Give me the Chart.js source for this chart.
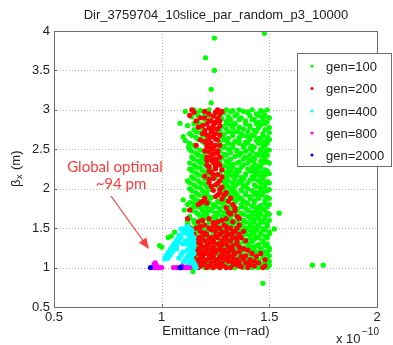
<!DOCTYPE html>
<html><head><meta charset="utf-8">
<script src="https://cdn.jsdelivr.net/npm/chart.js@4"></script>
<style>html,body{margin:0;padding:0;background:#fff}canvas{display:block}</style>
</head><body>
<canvas id="c" width="393" height="345"></canvas>
<script>
const chartTitle = "Dir_3759704_10slice_par_random_p3_10000";
const seriesNames = ["gen=100","gen=200","gen=400","gen=800","gen=2000"];
const seriesColors = ["#00ff00","#ff0000","#00ffff","#ff00ff","#0000ff"];
const xTicks = [0.5,1,1.5,2];
const yTicks = [0.5,1,1.5,2,2.5,3,3.5,4];

const gen100 = [
[1.245,3.91],[1.477,3.97],[1.204,3.66],[1.245,3.50],[1.23,3.26],[1.23,3.09],[1.546,1.69],[1.523,1.49],[1.70,1.03],[1.75,1.03],[1.47,0.80],[1.145,0.95],
[1.085,2.83],[1.10,2.66],[1.125,2.53],[1.14,2.24],[1.10,1.86],[1.105,1.73],[1.12,1.60],[1.00,1.26],[0.99,1.28],[1.03,1.38],[1.045,1.40],[1.06,1.45],[1.11,2.98],[1.12,2.10],
[1.15,3.00],[1.18,2.99],[1.22,3.00],[1.27,2.98],[1.30,3.00],[1.33,2.99],[1.36,3.00],[1.38,2.98],[1.42,3.00],[1.46,2.99],[1.49,3.00],
[1.16,2.96],[1.20,2.94],[1.25,2.95],[1.29,2.96],[1.35,2.94],[1.40,2.96],[1.44,2.95],[1.48,2.93],
[1.14,2.91],[1.28,2.89],[1.31,2.91],[1.37,2.90],[1.43,2.88],[1.47,2.91],[1.50,2.90],
[1.17,2.84],[1.26,2.86],[1.30,2.85],[1.34,2.83],[1.39,2.86],[1.45,2.84],[1.49,2.85],
[1.12,2.80],[1.19,2.81],[1.28,2.79],[1.32,2.81],[1.36,2.78],[1.41,2.80],[1.46,2.81],
[1.15,2.75],[1.27,2.74],[1.30,2.76],[1.35,2.73],[1.38,2.76],[1.43,2.74],[1.48,2.75],
[1.13,2.70],[1.18,2.71],[1.29,2.69],[1.33,2.71],[1.37,2.70],[1.42,2.68],[1.47,2.70],[1.50,2.71],
[1.16,2.65],[1.21,2.64],[1.28,2.66],[1.31,2.64],[1.36,2.65],[1.40,2.66],[1.45,2.64],[1.49,2.65],
[1.11,2.61],[1.19,2.60],[1.27,2.59],[1.30,2.61],[1.34,2.60],[1.39,2.59],[1.44,2.61],[1.48,2.60],
[1.15,2.55],[1.22,2.56],[1.29,2.54],[1.33,2.56],[1.38,2.55],[1.42,2.54],[1.47,2.56],
[1.13,2.50],[1.18,2.49],[1.27,2.51],[1.31,2.50],[1.35,2.49],[1.41,2.51],[1.46,2.50],[1.50,2.49],
[1.16,2.45],[1.20,2.46],[1.29,2.44],[1.32,2.46],[1.37,2.45],[1.44,2.44],[1.48,2.46],
[1.14,2.40],[1.19,2.41],[1.28,2.39],[1.34,2.41],[1.39,2.40],[1.43,2.39],[1.47,2.41],
[1.17,2.35],[1.21,2.34],[1.27,2.36],[1.30,2.35],[1.36,2.34],[1.41,2.36],[1.46,2.35],[1.49,2.34],
[1.15,2.30],[1.20,2.31],[1.29,2.29],[1.33,2.31],[1.38,2.30],[1.45,2.29],
[1.13,2.25],[1.18,2.26],[1.23,2.24],[1.28,2.25],[1.31,2.26],[1.35,2.24],[1.40,2.25],[1.44,2.26],[1.48,2.24],
[1.16,2.20],[1.21,2.21],[1.27,2.19],[1.30,2.21],[1.34,2.20],[1.39,2.19],[1.43,2.21],[1.47,2.20],[1.50,2.19],
[1.14,2.15],[1.19,2.16],[1.25,2.14],[1.29,2.15],[1.33,2.16],[1.37,2.14],[1.42,2.15],[1.46,2.16],
[1.17,2.10],[1.22,2.09],[1.28,2.11],[1.31,2.10],[1.36,2.09],[1.41,2.11],[1.45,2.10],[1.49,2.09],
[1.15,2.05],[1.20,2.06],[1.26,2.04],[1.30,2.05],[1.35,2.06],[1.38,2.04],[1.43,2.05],[1.48,2.06],
[1.13,2.00],[1.18,2.01],[1.23,1.99],[1.29,2.00],[1.32,2.01],[1.37,1.99],[1.40,2.00],[1.46,2.01],[1.50,1.99],
[1.16,1.95],[1.21,1.96],[1.27,1.94],[1.31,1.95],[1.34,1.96],[1.39,1.94],[1.44,1.95],[1.47,1.96],
[1.14,1.90],[1.19,1.91],[1.23,1.89],[1.29,1.90],[1.33,1.91],[1.36,1.89],[1.41,1.90],[1.45,1.91],[1.49,1.89],
[1.17,1.85],[1.22,1.86],[1.26,1.84],[1.30,1.85],[1.35,1.86],[1.38,1.84],[1.43,1.85],[1.48,1.86],
[1.12,1.80],[1.15,1.81],[1.20,1.79],[1.24,1.80],[1.29,1.81],[1.32,1.79],[1.37,1.80],[1.40,1.81],[1.46,1.79],[1.50,1.80],
[1.14,1.75],[1.18,1.76],[1.23,1.74],[1.27,1.75],[1.31,1.76],[1.35,1.74],[1.39,1.75],[1.44,1.76],[1.47,1.74],
[1.16,1.70],[1.21,1.71],[1.25,1.69],[1.29,1.70],[1.33,1.71],[1.37,1.69],[1.42,1.70],[1.45,1.71],[1.49,1.69],
[1.13,1.65],[1.19,1.66],[1.24,1.64],[1.28,1.65],[1.32,1.66],[1.36,1.64],[1.40,1.65],[1.44,1.66],[1.48,1.64],
[1.15,1.60],[1.18,1.61],[1.22,1.59],[1.27,1.60],[1.30,1.61],[1.34,1.59],[1.38,1.60],[1.43,1.61],[1.46,1.59],[1.50,1.60],
[1.12,1.55],[1.17,1.56],[1.21,1.54],[1.25,1.55],[1.29,1.56],[1.33,1.54],[1.37,1.55],[1.41,1.56],[1.45,1.54],[1.49,1.55],
[1.14,1.50],[1.19,1.51],[1.23,1.49],[1.28,1.50],[1.31,1.51],[1.35,1.49],[1.39,1.50],[1.43,1.51],[1.47,1.49],
[1.16,1.45],[1.20,1.46],[1.24,1.44],[1.27,1.45],[1.30,1.46],[1.34,1.44],[1.38,1.45],[1.42,1.46],[1.46,1.44],[1.50,1.45],
[1.13,1.40],[1.18,1.41],[1.22,1.39],[1.26,1.40],[1.29,1.41],[1.33,1.39],[1.37,1.40],[1.41,1.41],[1.44,1.39],[1.48,1.40],
[1.15,1.35],[1.19,1.36],[1.23,1.34],[1.27,1.35],[1.31,1.36],[1.35,1.34],[1.39,1.35],[1.43,1.36],[1.47,1.34],
[1.14,1.30],[1.17,1.31],[1.21,1.29],[1.25,1.30],[1.29,1.31],[1.32,1.29],[1.36,1.30],[1.40,1.31],[1.45,1.29],[1.49,1.30],
[1.16,1.25],[1.20,1.26],[1.24,1.24],[1.28,1.25],[1.31,1.26],[1.34,1.24],[1.38,1.25],[1.42,1.26],[1.46,1.24],[1.50,1.25],
[1.13,1.20],[1.18,1.21],[1.22,1.19],[1.26,1.20],[1.30,1.21],[1.33,1.19],[1.37,1.20],[1.41,1.21],[1.44,1.19],[1.48,1.20],
[1.15,1.15],[1.19,1.16],[1.23,1.14],[1.27,1.15],[1.31,1.16],[1.35,1.14],[1.39,1.15],[1.43,1.16],[1.47,1.14],[1.50,1.15],
[1.14,1.10],[1.17,1.11],[1.21,1.09],[1.25,1.10],[1.29,1.11],[1.32,1.09],[1.36,1.10],[1.40,1.11],[1.45,1.09],[1.49,1.10],
[1.16,1.06],[1.20,1.07],[1.24,1.05],[1.28,1.06],[1.31,1.07],[1.34,1.05],[1.38,1.06],[1.42,1.07],[1.46,1.05],[1.48,1.06],
[1.15,1.02],[1.18,1.03],[1.22,1.01],[1.26,1.02],[1.30,1.03],[1.33,1.01],[1.37,1.02],[1.41,1.03],[1.44,1.01],[1.47,1.02],[1.50,1.03],
[1.14,1.00],[1.17,1.00],[1.20,1.00],[1.23,1.00],[1.27,1.00],[1.30,1.00],[1.34,1.00],[1.38,1.00],[1.42,1.00],[1.45,1.00],[1.49,1.00],
[1.20,2.975],[1.32,2.975],[1.40,2.975],[1.47,2.975],
[1.17,2.925],[1.22,2.925],[1.34,2.925],[1.41,2.925],[1.45,2.925],
[1.20,2.875],[1.32,2.875],[1.36,2.875],[1.42,2.875],[1.47,2.875],
[1.15,2.825],[1.30,2.825],[1.34,2.825],[1.39,2.825],[1.44,2.825],[1.48,2.825],
[1.18,2.775],[1.33,2.775],[1.41,2.775],[1.45,2.775],[1.50,2.775],
[1.16,2.725],[1.27,2.725],[1.31,2.725],[1.35,2.725],[1.40,2.725],[1.44,2.725],
[1.14,2.675],[1.19,2.675],[1.33,2.675],[1.38,2.675],[1.43,2.675],[1.47,2.675],
[1.17,2.625],[1.29,2.625],[1.36,2.625],[1.41,2.625],[1.46,2.625],[1.50,2.625],
[1.13,2.575],[1.20,2.575],[1.31,2.575],[1.36,2.575],[1.40,2.575],[1.45,2.575],[1.49,2.575],
[1.16,2.525],[1.29,2.525],[1.33,2.525],[1.38,2.525],[1.43,2.525],[1.48,2.525],
[1.14,2.475],[1.27,2.475],[1.35,2.475],[1.39,2.475],[1.42,2.475],[1.46,2.475],
[1.17,2.425],[1.30,2.425],[1.36,2.425],[1.41,2.425],[1.45,2.425],[1.49,2.425],
[1.15,2.375],[1.19,2.375],[1.32,2.375],[1.38,2.375],[1.43,2.375],[1.48,2.375],
[1.13,2.325],[1.18,2.325],[1.27,2.325],[1.31,2.325],[1.35,2.325],[1.40,2.325],[1.43,2.325],[1.47,2.325],[1.50,2.325],
[1.16,2.275],[1.21,2.275],[1.33,2.275],[1.37,2.275],[1.42,2.275],[1.46,2.275],
[1.14,2.225],[1.19,2.225],[1.32,2.225],[1.36,2.225],[1.41,2.225],[1.45,2.225],[1.49,2.225],
[1.17,2.175],[1.22,2.175],[1.31,2.175],[1.35,2.175],[1.39,2.175],[1.44,2.175],[1.48,2.175],
[1.15,2.125],[1.20,2.125],[1.30,2.125],[1.34,2.125],[1.38,2.125],[1.43,2.125],[1.47,2.125],
[1.13,2.075],[1.18,2.075],[1.29,2.075],[1.33,2.075],[1.37,2.075],[1.40,2.075],[1.46,2.075],[1.50,2.075],
[1.16,2.025],[1.21,2.025],[1.31,2.025],[1.34,2.025],[1.39,2.025],[1.44,2.025],[1.48,2.025],
[1.14,1.975],[1.19,1.975],[1.29,1.975],[1.33,1.975],[1.37,1.975],[1.42,1.975],[1.46,1.975],[1.49,1.975],
[1.17,1.925],[1.21,1.925],[1.31,1.925],[1.35,1.925],[1.39,1.925],[1.43,1.925],[1.47,1.925],
[1.15,1.875],[1.20,1.875],[1.28,1.875],[1.33,1.875],[1.37,1.875],[1.41,1.875],[1.45,1.875],[1.50,1.875],
[1.13,1.825],[1.18,1.825],[1.22,1.825],[1.27,1.825],[1.34,1.825],[1.39,1.825],[1.43,1.825],[1.48,1.825],
[1.16,1.775],[1.21,1.775],[1.25,1.775],[1.29,1.775],[1.33,1.775],[1.37,1.775],[1.42,1.775],[1.46,1.775],[1.49,1.775],
[1.14,1.725],[1.19,1.725],[1.23,1.725],[1.27,1.725],[1.31,1.725],[1.35,1.725],[1.40,1.725],[1.44,1.725],[1.48,1.725],
[1.17,1.675],[1.21,1.675],[1.26,1.675],[1.30,1.675],[1.34,1.675],[1.38,1.675],[1.42,1.675],[1.46,1.675],[1.50,1.675],
[1.13,1.625],[1.20,1.625],[1.25,1.625],[1.29,1.625],[1.32,1.625],[1.36,1.625],[1.41,1.625],[1.45,1.625],[1.48,1.625],
[1.15,1.575],[1.19,1.575],[1.23,1.575],[1.27,1.575],[1.31,1.575],[1.35,1.575],[1.39,1.575],[1.43,1.575],[1.47,1.575],
[1.16,1.525],[1.21,1.525],[1.26,1.525],[1.30,1.525],[1.33,1.525],[1.37,1.525],[1.41,1.525],[1.45,1.525],[1.49,1.525],
[1.14,1.475],[1.18,1.475],[1.22,1.475],[1.26,1.475],[1.29,1.475],[1.32,1.475],[1.36,1.475],[1.40,1.475],[1.44,1.475],[1.48,1.475],
[1.15,1.425],[1.20,1.425],[1.24,1.425],[1.28,1.425],[1.31,1.425],[1.35,1.425],[1.39,1.425],[1.43,1.425],[1.46,1.425],[1.50,1.425],
[1.17,1.375],[1.21,1.375],[1.25,1.375],[1.29,1.375],[1.33,1.375],[1.37,1.375],[1.41,1.375],[1.45,1.375],[1.49,1.375],
[1.16,1.325],[1.19,1.325],[1.23,1.325],[1.27,1.325],[1.31,1.325],[1.34,1.325],[1.38,1.325],[1.42,1.325],[1.47,1.325],
[1.14,1.275],[1.18,1.275],[1.22,1.275],[1.26,1.275],[1.30,1.275],[1.33,1.275],[1.36,1.275],[1.40,1.275],[1.44,1.275],[1.48,1.275],
[1.15,1.225],[1.20,1.225],[1.24,1.225],[1.28,1.225],[1.32,1.225],[1.35,1.225],[1.39,1.225],[1.43,1.225],[1.46,1.225],[1.50,1.225],
[1.17,1.175],[1.21,1.175],[1.25,1.175],[1.29,1.175],[1.33,1.175],[1.37,1.175],[1.41,1.175],[1.45,1.175],[1.49,1.175],
[1.16,1.125],[1.19,1.125],[1.23,1.125],[1.27,1.125],[1.30,1.125],[1.34,1.125],[1.38,1.125],[1.42,1.125],[1.47,1.125],
[1.15,1.08],[1.18,1.08],[1.22,1.08],[1.26,1.08],[1.30,1.08],[1.33,1.08],[1.36,1.08],[1.40,1.08],[1.44,1.08],[1.50,1.08],
[1.14,1.04],[1.17,1.04],[1.21,1.04],[1.25,1.04],[1.28,1.04],[1.32,1.04],[1.35,1.04],[1.39,1.04],[1.43,1.04],[1.46,1.04],[1.49,1.04]
];

const gen200 = [
[1.14,3.00],[1.15,2.97],[1.13,2.93],[1.16,2.86],[1.18,2.90],[1.17,2.78],[1.19,2.70],[1.18,2.62],[1.16,2.55],
[1.26,3.00],[1.25,2.97],[1.27,2.94],[1.24,2.92],[1.26,2.89],[1.23,2.86],[1.25,2.84],[1.21,2.82],[1.24,2.80],[1.22,2.77],[1.26,2.76],
[1.20,2.74],[1.23,2.72],[1.25,2.70],[1.21,2.68],[1.24,2.66],[1.22,2.63],[1.26,2.62],[1.20,2.60],[1.23,2.58],[1.25,2.55],
[1.21,2.53],[1.24,2.50],[1.22,2.47],[1.26,2.45],[1.23,2.42],[1.25,2.38],[1.21,2.36],[1.24,2.33],[1.27,2.30],[1.22,2.28],
[1.25,2.25],[1.23,2.21],[1.26,2.18],[1.20,2.16],[1.24,2.13],[1.27,2.10],[1.22,2.08],[1.25,2.05],[1.28,2.02],[1.24,1.98],
[1.27,1.95],[1.29,1.92],[1.25,1.90],[1.28,1.87],[1.19,1.84],[1.21,1.82],[1.17,1.80],[1.31,1.84],[1.33,1.80],[1.30,1.76],
[1.34,1.72],[1.32,1.68],[1.35,1.65],[1.13,1.73],[1.12,1.62],[1.13,1.50],
[1.20,2.98],[1.22,2.95],[1.28,2.98],[1.20,2.90],[1.27,2.86],[1.19,2.80],[1.27,2.80],[1.22,2.86],[1.24,2.76],[1.20,2.70],
[1.27,2.68],[1.22,2.66],[1.25,2.63],[1.21,2.57],[1.27,2.55],[1.23,2.52],[1.20,2.48],[1.26,2.48],[1.24,2.44],[1.21,2.40],
[1.27,2.40],[1.23,2.36],[1.26,2.33],[1.21,2.30],[1.25,2.28],[1.28,2.24],[1.22,2.22],[1.24,2.18],[1.28,2.15],[1.22,2.12],
[1.26,2.07],[1.23,2.03],[1.27,1.99],[1.30,1.95],[1.26,1.92],[1.20,1.88],[1.18,1.82],[1.32,1.88],[1.34,1.76],[1.31,1.70],[1.36,1.62],
[1.22,1.62],[1.30,1.62],[1.17,1.58],[1.26,1.58],[1.33,1.58],[1.20,1.54],[1.24,1.54],[1.29,1.54],[1.36,1.54],
[1.16,1.50],[1.22,1.50],[1.27,1.50],[1.32,1.50],[1.35,1.50],[1.18,1.46],[1.25,1.46],[1.30,1.46],[1.34,1.46],[1.38,1.46],
[1.15,1.42],[1.21,1.42],[1.27,1.42],[1.31,1.42],[1.36,1.42],[1.17,1.38],[1.23,1.38],[1.26,1.38],[1.29,1.38],[1.33,1.38],[1.37,1.38],
[1.16,1.34],[1.20,1.34],[1.24,1.34],[1.28,1.34],[1.32,1.34],[1.39,1.34],[1.18,1.30],[1.22,1.30],[1.26,1.30],[1.30,1.30],[1.35,1.30],
[1.15,1.26],[1.19,1.26],[1.24,1.26],[1.27,1.26],[1.31,1.26],[1.36,1.26],[1.17,1.22],[1.21,1.22],[1.25,1.22],[1.29,1.22],[1.33,1.22],[1.40,1.22],
[1.16,1.18],[1.20,1.18],[1.23,1.18],[1.28,1.18],[1.34,1.18],[1.42,1.18],[1.46,1.18],[1.15,1.14],[1.19,1.14],[1.24,1.14],[1.27,1.14],[1.31,1.14],[1.37,1.14],[1.44,1.14],
[1.17,1.10],[1.21,1.10],[1.26,1.10],[1.30,1.10],[1.35,1.10],[1.41,1.10],[1.48,1.10],[1.16,1.06],[1.20,1.06],[1.23,1.06],[1.28,1.06],[1.33,1.06],[1.39,1.06],[1.45,1.06],
[1.15,1.02],[1.18,1.02],[1.22,1.02],[1.25,1.02],[1.29,1.02],[1.36,1.02],[1.43,1.02],[1.48,1.02],[1.17,1.00],[1.21,1.00],[1.27,1.00],[1.32,1.00],[1.40,1.00],[1.47,1.00],
[1.19,1.60],[1.24,1.57],[1.28,1.60],[1.18,1.52],[1.25,1.52],[1.30,1.52],[1.20,1.44],[1.23,1.48],[1.28,1.45],[1.33,1.44],[1.19,1.40],[1.25,1.40],[1.30,1.40],[1.35,1.38],
[1.18,1.36],[1.22,1.36],[1.30,1.36],[1.35,1.34],[1.17,1.32],[1.24,1.32],[1.28,1.29],[1.33,1.28],[1.21,1.28],[1.17,1.24],[1.23,1.24],[1.27,1.23],[1.32,1.24],[1.38,1.24],
[1.19,1.20],[1.25,1.19],[1.31,1.20],[1.36,1.20],[1.18,1.16],[1.22,1.16],[1.29,1.16],[1.33,1.15],[1.39,1.15],[1.19,1.12],[1.23,1.12],[1.28,1.12],[1.33,1.12],[1.38,1.11],
[1.18,1.08],[1.25,1.08],[1.31,1.08],[1.36,1.07],[1.43,1.08],[1.19,1.04],[1.27,1.04],[1.34,1.04],[1.41,1.04],[1.24,1.00],[1.30,1.00],[1.37,1.01]
];

const gen400 = [
[1.09,1.49],[1.11,1.50],[1.12,1.52],[1.13,1.49],[1.14,1.47],[1.11,1.46],[1.10,1.44],[1.12,1.43],[1.14,1.42],[1.08,1.41],[1.09,1.38],
[1.13,1.38],[1.15,1.38],[1.07,1.35],[1.08,1.33],[1.13,1.34],[1.15,1.33],[1.06,1.31],[1.12,1.30],[1.14,1.30],[1.05,1.27],[1.07,1.28],[1.13,1.26],[1.15,1.26],
[1.04,1.23],[1.06,1.24],[1.12,1.22],[1.14,1.22],[1.03,1.19],[1.05,1.20],[1.10,1.20],[1.13,1.18],[1.15,1.18],[1.02,1.15],[1.04,1.16],
[1.09,1.16],[1.12,1.14],[1.14,1.14],[1.015,1.11],[1.03,1.12],[1.08,1.12],[1.11,1.10],[1.14,1.10],[1.10,1.07],[1.13,1.06],[1.15,1.06],
[1.12,1.03],[1.14,1.02],[1.155,1.03],[1.13,1.00],[1.16,1.00],[1.07,1.24],[1.10,1.30],[1.11,1.34]
];

const gen800 = [
[0.96,1.00],[0.97,1.00],[0.98,1.00],[0.99,1.00],[1.00,1.00],[0.965,1.04],[0.97,1.06],[0.975,1.03],
[1.055,1.00],[1.07,1.00],[1.10,1.00],[1.11,1.00],[1.12,1.00],[1.13,1.00],[1.095,1.02]
];

const gen2000 = [[0.948,1.00],[1.085,1.00],[1.09,1.00]];

const allSeries = [gen100, gen200, gen400, gen800, gen2000];
const FONT = "'Liberation Sans', Arial, Helvetica, sans-serif";

const datasets = allSeries.map((s, i) => ({
  label: seriesNames[i],
  data: s.map(p => ({x: p[0], y: p[1]})),
  backgroundColor: seriesColors[i],
  borderWidth: 0,
  pointRadius: 2.6,
  pointHoverRadius: 2.6,
  order: allSeries.length - i
}));

const gridPlugin = {
  id: 'dottedGrid',
  beforeDatasetsDraw(chart) {
    const ctx = chart.ctx, a = chart.chartArea, sx = chart.scales.x, sy = chart.scales.y;
    ctx.save();
    ctx.strokeStyle = '#b8b8b8'; ctx.lineWidth = 1; ctx.setLineDash([1, 2]);
    xTicks.forEach(v => {
      if (v === sx.min || v === sx.max) return;
      const px = Math.round(sx.getPixelForValue(v)) + 0.5;
      ctx.beginPath(); ctx.moveTo(px, a.top); ctx.lineTo(px, a.bottom); ctx.stroke();
    });
    yTicks.forEach(v => {
      if (v === sy.min || v === sy.max) return;
      const py = Math.round(sy.getPixelForValue(v)) + 0.5;
      ctx.beginPath(); ctx.moveTo(a.left, py); ctx.lineTo(a.right, py); ctx.stroke();
    });
    ctx.restore();
  }
};

const decor = {
  id: 'decor',
  afterDraw(chart) {
    const ctx = chart.ctx, a = chart.chartArea, sx = chart.scales.x, sy = chart.scales.y;
    ctx.save();
    ctx.strokeStyle = '#6e6e6e'; ctx.lineWidth = 1;
    ctx.strokeRect(Math.round(a.left)+0.5, Math.round(a.top)+0.5, Math.round(a.right-a.left), Math.round(a.bottom-a.top));
    // inward tick marks
    ctx.beginPath();
    xTicks.forEach(v => { const px = Math.round(sx.getPixelForValue(v)) + 0.5; ctx.moveTo(px, a.bottom); ctx.lineTo(px, a.bottom - 3); });
    yTicks.forEach(v => { const py = Math.round(sy.getPixelForValue(v)) + 0.5; ctx.moveTo(a.left, py); ctx.lineTo(a.left + 3, py); });
    ctx.stroke();
    ctx.fillStyle = '#222';
    ctx.font = '13px ' + FONT;
    ctx.textAlign = 'center'; ctx.textBaseline = 'middle';
    ctx.fillText(chartTitle, 216, 15);
    ctx.fillText('Emittance (m\u2212rad)', 216, 331);
    ctx.textAlign = 'left';
    ctx.fillText('x 10', 336, 339);
    ctx.font = '10px ' + FONT;
    ctx.fillText('\u221210', 362, 332);
    ctx.save();
    ctx.translate(16, 168);
    ctx.rotate(-Math.PI/2);
    ctx.textAlign = 'left';
    ctx.font = '13px ' + FONT;
    ctx.fillText('\u03b2', -19, 0);
    ctx.font = '9px ' + FONT;
    ctx.fillText('x', -11, 4);
    ctx.font = '13px ' + FONT;
    ctx.fillText('(m)', -2, 0);
    ctx.restore();
    ctx.fillStyle = '#fff';
    ctx.fillRect(297, 53, 95, 114);
    ctx.strokeStyle = '#6e6e6e';
    ctx.strokeRect(297.5, 53.5, 94, 113);
    const rows = [66, 88.5, 111, 133, 155];
    ctx.font = '13px ' + FONT;
    ctx.textAlign = 'left'; ctx.textBaseline = 'middle';
    seriesNames.forEach((n, i) => {
      ctx.fillStyle = seriesColors[i];
      ctx.beginPath(); ctx.arc(312, rows[i], 1.6, 0, Math.PI*2); ctx.fill();
      ctx.fillStyle = '#222';
      ctx.fillText(n, 326, rows[i] + 1);
    });
    ctx.fillStyle = '#ff3b3b';
    ctx.font = '15px Lato, "Open Sans", sans-serif';
    ctx.textAlign = 'center';
    ctx.fillText('Global optimal', 115, 167);
    ctx.fillText('~94 pm', 121, 184);
    ctx.strokeStyle = '#ff3b3b'; ctx.lineWidth = 1.2;
    ctx.beginPath(); ctx.moveTo(111, 196); ctx.lineTo(144, 242); ctx.stroke();
    const tx = 149, ty = 249, ang = Math.atan2(249-196, 149-111);
    ctx.beginPath();
    ctx.moveTo(tx, ty);
    ctx.lineTo(tx - 11*Math.cos(ang) + 4.5*Math.sin(ang), ty - 11*Math.sin(ang) - 4.5*Math.cos(ang));
    ctx.lineTo(tx - 11*Math.cos(ang) - 4.5*Math.sin(ang), ty - 11*Math.sin(ang) + 4.5*Math.cos(ang));
    ctx.closePath(); ctx.fill();
    ctx.restore();
  }
};

new Chart(document.getElementById('c'), {
  type: 'scatter',
  data: { datasets },
  plugins: [gridPlugin, decor],
  options: {
    responsive: false,
    animation: false,
    devicePixelRatio: 1,
    layout: { padding: { left: 0, right: 16, top: 31, bottom: 0 } },
    plugins: { legend: { display: false }, tooltip: { enabled: false }, title: { display: false } },
    scales: {
      x: {
        type: 'linear', min: 0.5, max: 2,
        afterBuildTicks: s => { s.ticks = xTicks.map(v => ({value: v})); },
        afterFit: s => { s.height = 38; },
        ticks: { color: '#222', font: { family: FONT, size: 13 }, padding: 3, maxRotation: 0,
                 callback: v => String(v) },
        grid: { display: false, drawTicks: false },
        border: { display: false }
      },
      y: {
        type: 'linear', min: 0.5, max: 4,
        afterBuildTicks: s => { s.ticks = yTicks.map(v => ({value: v})); },
        afterFit: s => { s.width = 54; },
        ticks: { color: '#222', font: { family: FONT, size: 13 }, padding: 4,
                 callback: v => String(v) },
        grid: { display: false, drawTicks: false },
        border: { display: false }
      }
    }
  }
});
</script>
</body></html>
